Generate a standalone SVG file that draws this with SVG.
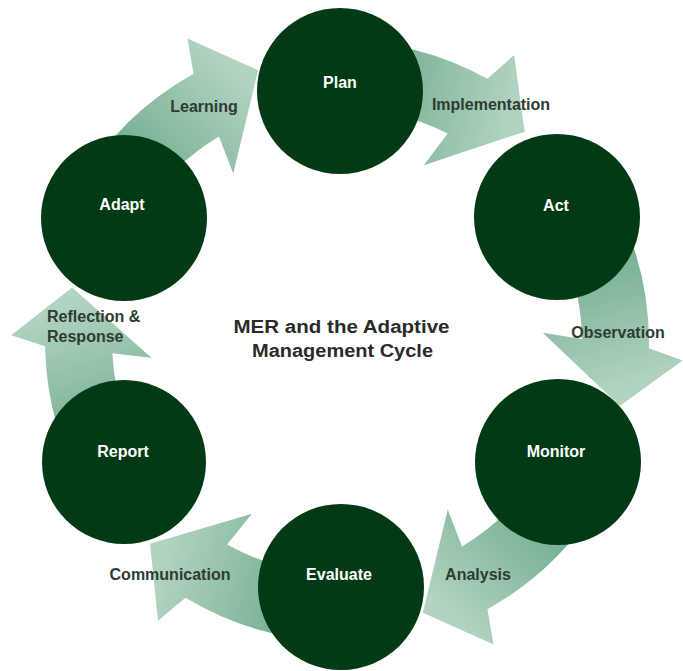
<svg xmlns="http://www.w3.org/2000/svg" xmlns:xlink="http://www.w3.org/1999/xlink" width="683" height="671" viewBox="0 0 683 671">
  <style>
    .node { fill: #023a15; }
    .nlabel { font-family: "Liberation Sans", Arial, sans-serif; font-weight: bold; font-size: 16px; fill: #ffffff; text-anchor: middle; }
    .alabel { font-family: "Liberation Sans", Arial, sans-serif; font-weight: bold; font-size: 16px; fill: #2d3b32; text-anchor: middle; }
    .title { font-family: "Liberation Sans", Arial, sans-serif; font-weight: bold; font-size: 18px; fill: #2a2a2a; text-anchor: middle; }
  </style>
  <defs>
    <linearGradient id="arrowGrad" gradientUnits="userSpaceOnUse" x1="235" y1="-135" x2="285" y2="45">
      <stop offset="0" stop-color="#5fa281"/>
      <stop offset="1" stop-color="#b3d3c1"/>
    </linearGradient>
    <path id="arrowShape" fill="url(#arrowGrad)" d="M261.5,-151.0 A302,302 0 0 1 301.95,5.27 L335.54,17.59 L272.8,63.0 L195.73,-10.26 L234.96,-4.10 A235,235 0 0 0 203.5,-117.5 Z"/>
  </defs>
  <rect width="683" height="671" fill="#ffffff"/>
  <g id="connectors">
    <use id="arrow-implementation" xlink:href="#arrowShape" transform="translate(341,343) rotate(298)"/>
    <use id="arrow-observation" xlink:href="#arrowShape" transform="translate(347,343) rotate(0)"/>
    <use id="arrow-analysis" xlink:href="#arrowShape" transform="translate(341,345) rotate(60)"/>
    <use id="arrow-communication" xlink:href="#arrowShape" transform="translate(341,339) rotate(120)"/>
    <use id="arrow-reflection" xlink:href="#arrowShape" transform="translate(347,341) rotate(178)"/>
    <use id="arrow-learning" xlink:href="#arrowShape" transform="translate(340,338) rotate(240)"/>
  </g>
  <g id="node-plan">
    <circle class="node" cx="340" cy="91" r="83"/>
    <text class="nlabel" x="340" y="88">Plan</text>
  </g>
  <g id="node-act">
    <circle class="node" cx="557" cy="217" r="83"/>
    <text class="nlabel" x="556" y="211">Act</text>
  </g>
  <g id="node-monitor">
    <circle class="node" cx="558" cy="462" r="83"/>
    <text class="nlabel" x="556" y="457">Monitor</text>
  </g>
  <g id="node-evaluate">
    <circle class="node" cx="341" cy="587" r="83"/>
    <text class="nlabel" x="339" y="580">Evaluate</text>
  </g>
  <g id="node-report">
    <circle class="node" cx="124" cy="462" r="82"/>
    <text class="nlabel" x="123" y="457">Report</text>
  </g>
  <g id="node-adapt">
    <circle class="node" cx="124" cy="218" r="83"/>
    <text class="nlabel" x="122" y="210">Adapt</text>
  </g>
  <g id="labels">
    <text class="alabel" x="204" y="112">Learning</text>
    <text class="alabel" x="491" y="110">Implementation</text>
    <text class="alabel" x="618" y="338">Observation</text>
    <text class="alabel" x="478" y="580">Analysis</text>
    <text class="alabel" x="170" y="580">Communication</text>
    <text class="alabel" x="47" y="322" style="text-anchor:start">Reflection &amp;</text>
    <text class="alabel" x="47" y="342" style="text-anchor:start">Response</text>
  </g>
  <g id="title">
    <text class="title" x="341.5" y="333" textLength="216" lengthAdjust="spacingAndGlyphs">MER and the Adaptive</text>
    <text class="title" x="342.5" y="357" textLength="181" lengthAdjust="spacingAndGlyphs">Management Cycle</text>
  </g>
</svg>
